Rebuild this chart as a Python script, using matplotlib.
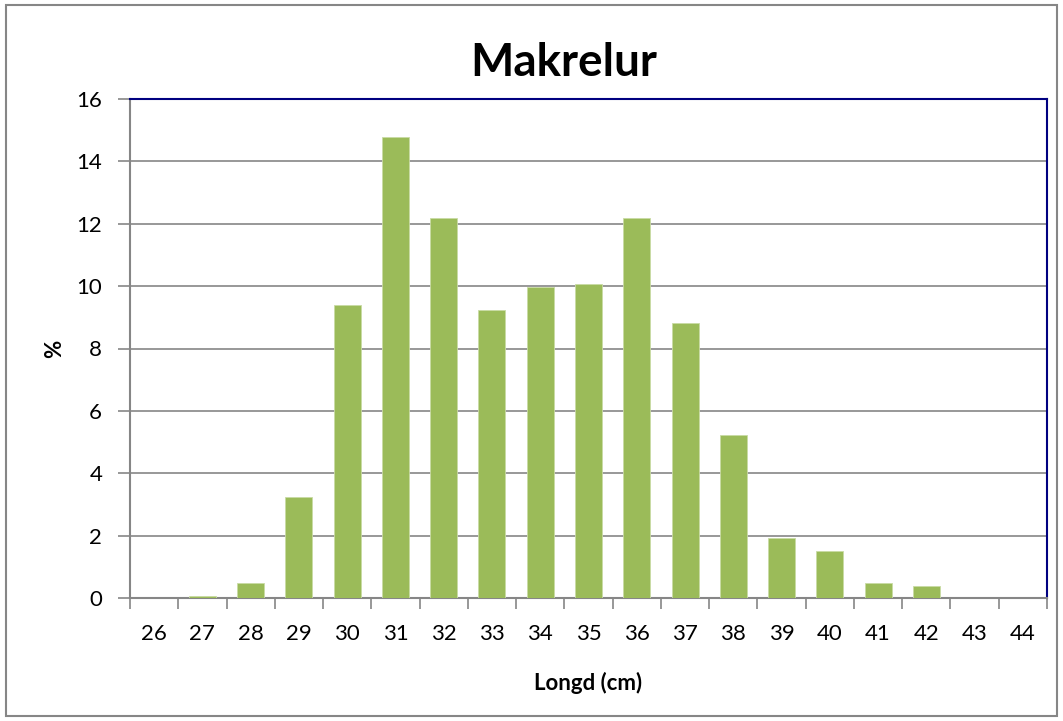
import matplotlib
matplotlib.use("Agg")
import matplotlib.pyplot as plt
from matplotlib.patches import Rectangle

lengths = [26, 27, 28, 29, 30, 31, 32, 33, 34, 35, 36, 37, 38, 39, 40, 41, 42, 43, 44]
percent = [0.0, 0.05, 0.48, 3.24, 9.39, 14.78, 12.18, 9.23, 9.97, 10.07, 12.18, 8.82, 5.23, 1.92, 1.51, 0.48, 0.38, 0.0, 0.0]
title = "Makrelur"
xlabel = "Longd (cm)"
ylabel = "%"

plt.rcParams['font.family'] = ['Lato', 'DejaVu Sans']

fig = plt.figure(figsize=(10.63, 7.21), dpi=100)
ax = fig.add_axes([130/1063, 1-598/721, (1047-130)/1063, (598-99)/721])

pos = list(range(len(lengths)))
ax.bar(pos, percent, width=0.56, color='#9BBB59', edgecolor='#C9DBA4', linewidth=0.6, zorder=3)

ax.set_xlim(-0.5, len(lengths)-0.5)
ax.set_ylim(0, 16)
ax.set_yticks(range(0, 17, 2))
ax.set_xticks(pos)
ax.set_xticklabels([str(v) for v in lengths], fontsize=16)
ax.set_xticks([p + 0.5 for p in pos[:-1]] + [-0.5, len(lengths)-0.5], minor=True)
ax.tick_params(axis='x', which='major', length=0, pad=19)
ax.tick_params(axis='x', which='minor', length=8, color='#868686', width=1.2, direction='out')
ax.tick_params(axis='y', length=9, color='#868686', width=1.2, labelsize=16, pad=11)
ax.yaxis.grid(True, color='#868686', linewidth=1.2, zorder=0)
ax.set_axisbelow(True)

for s in ['left', 'bottom']:
    ax.spines[s].set_color('#868686')
    ax.spines[s].set_linewidth(1.5)
for s in ['top', 'right']:
    ax.spines[s].set_color('#000080')
    ax.spines[s].set_linewidth(1.5)

fig.text(564/1063, 1-63/721, title, fontsize=33, fontweight='bold', ha='center', va='center')
ax.set_xlabel(xlabel, fontsize=16, fontweight='bold', labelpad=20)
ax.set_ylabel(ylabel, fontsize=16, fontweight='bold', labelpad=8)

fig.patches.append(Rectangle((6/1063, 5/721), 1051/1063, 711/721, transform=fig.transFigure,
                             fill=False, edgecolor='#868686', linewidth=1.5))

fig.savefig("out.png", dpi=100)
